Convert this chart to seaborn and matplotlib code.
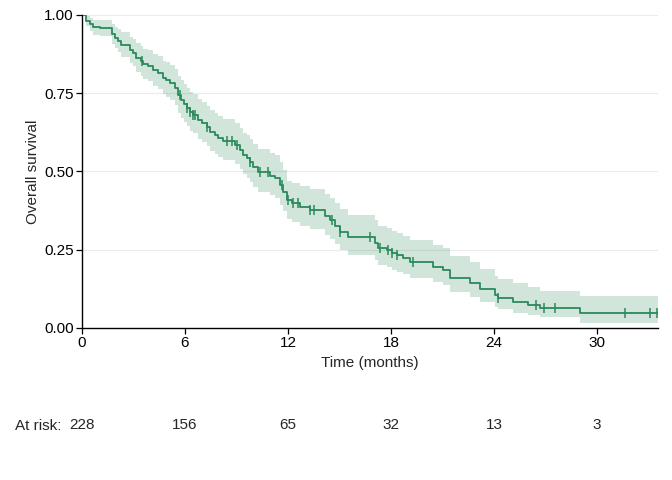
import numpy as np
import pandas as pd
import seaborn as sns
import matplotlib.pyplot as plt

# Kaplan-Meier steps (time in months)
time = [0.00, 0.23, 0.47, 0.64, 1.05, 1.75, 1.92, 2.10, 2.27, 2.80, 2.97, 3.15, 3.44, 3.55,
        3.84, 4.14, 4.43, 4.72, 4.89, 5.13, 5.42, 5.59, 5.77, 5.94, 6.12, 6.29, 6.46, 6.76,
        6.99, 7.28, 7.45, 7.75, 7.92, 8.21, 8.91, 9.20, 9.38, 9.61, 9.78, 9.96, 10.25, 10.95,
        11.24, 11.53, 11.71, 11.94, 12.23, 12.70, 13.28, 14.15, 14.44, 14.74, 15.03, 15.49,
        17.06, 17.24, 17.76, 18.05, 18.35, 18.70, 19.10, 20.44, 21.03, 21.43, 22.60, 23.18,
        24.05, 24.23, 25.10, 25.98, 26.67, 29.00]
surv = [1.000, 0.981, 0.971, 0.962, 0.958, 0.939, 0.927, 0.917, 0.904, 0.888, 0.879, 0.863,
        0.853, 0.843, 0.837, 0.824, 0.815, 0.799, 0.792, 0.783, 0.767, 0.744, 0.728, 0.716,
        0.703, 0.690, 0.681, 0.665, 0.655, 0.642, 0.626, 0.617, 0.607, 0.597, 0.585, 0.569,
        0.553, 0.543, 0.530, 0.514, 0.498, 0.486, 0.479, 0.457, 0.435, 0.409, 0.399, 0.387,
        0.377, 0.358, 0.345, 0.326, 0.307, 0.291, 0.272, 0.256, 0.249, 0.240, 0.233, 0.224,
        0.211, 0.195, 0.185, 0.160, 0.144, 0.125, 0.105, 0.096, 0.083, 0.073, 0.064, 0.048]
lower = [1.000, 0.963, 0.950, 0.937, 0.932, 0.908, 0.893, 0.881, 0.866, 0.847, 0.836, 0.818,
         0.806, 0.795, 0.788, 0.774, 0.764, 0.747, 0.739, 0.729, 0.712, 0.687, 0.670, 0.657,
         0.644, 0.630, 0.621, 0.604, 0.594, 0.580, 0.564, 0.555, 0.545, 0.535, 0.522, 0.506,
         0.490, 0.480, 0.467, 0.451, 0.435, 0.423, 0.416, 0.394, 0.373, 0.349, 0.338, 0.326,
         0.316, 0.297, 0.285, 0.267, 0.249, 0.234, 0.216, 0.201, 0.195, 0.186, 0.180, 0.171,
         0.159, 0.145, 0.136, 0.113, 0.099, 0.083, 0.066, 0.059, 0.049, 0.041, 0.035, 0.016]
upper = [1.000, 0.995, 0.990, 0.985, 0.983, 0.970, 0.962, 0.954, 0.944, 0.930, 0.922, 0.909,
         0.900, 0.892, 0.887, 0.876, 0.868, 0.854, 0.848, 0.840, 0.826, 0.805, 0.791, 0.780,
         0.767, 0.755, 0.747, 0.732, 0.722, 0.710, 0.695, 0.686, 0.676, 0.667, 0.655, 0.640,
         0.624, 0.615, 0.602, 0.587, 0.571, 0.559, 0.552, 0.530, 0.505, 0.470, 0.462, 0.452,
         0.444, 0.428, 0.416, 0.398, 0.379, 0.362, 0.343, 0.326, 0.319, 0.310, 0.303, 0.294,
         0.281, 0.265, 0.254, 0.228, 0.210, 0.189, 0.167, 0.157, 0.142, 0.130, 0.118, 0.102]
t_end = 33.55

censor_times = [3.49, 5.71, 6.12, 6.29, 6.46, 6.58, 7.28, 8.45, 8.74, 9.03, 9.78, 10.37,
                10.83, 11.65, 12.0, 12.29, 12.58, 13.28, 13.51, 14.56, 15.03, 16.77, 17.36,
                17.82, 18.05, 18.35, 19.28, 24.23, 26.44, 26.91, 27.55, 31.62, 33.08, 33.49]

risk_times = [0, 6, 12, 18, 24, 30]
at_risk = [228, 156, 65, 32, 13, 3]

green = "#2a8a5c"
fs = 11

sns.set_theme(style="ticks")
plt.rcParams['font.family'] = ['Liberation Sans', 'DejaVu Sans']

km = pd.DataFrame({"time": time + [t_end], "surv": surv + [surv[-1]],
                   "lower": lower + [lower[-1]], "upper": upper + [upper[-1]]})

fig = plt.figure(figsize=(6.72, 4.8), dpi=100)
ax = fig.add_axes([0.122, 0.317, 0.857, 0.652])

for y in [0.25, 0.5, 0.75, 1.0]:
    ax.axhline(y, color="#ebebeb", lw=0.8, zorder=0)

ax.fill_between(km["time"], km["lower"], km["upper"], step="post",
                color="#2E8B57", alpha=0.22, lw=0)
sns.lineplot(data=km, x="time", y="surv", drawstyle="steps-post",
             color=green, lw=1.3, ax=ax)

# censor marks sit on the step curve
idx = np.searchsorted(np.array(time), np.array(censor_times), side="right") - 1
ax.plot(censor_times, np.array(surv)[idx], ls="none", marker="|",
        ms=7, mew=1.1, color=green)

ax.set_xlim(0, t_end)
ax.set_ylim(0, 1)
ax.set_xticks(risk_times)
ax.set_yticks([0, 0.25, 0.5, 0.75, 1.0])
ax.set_yticklabels(["0.00", "0.25", "0.50", "0.75", "1.00"])
ax.tick_params(labelsize=fs, colors="black", length=4, width=0.9, pad=2)
ax.set_xlabel("Time (months)", fontsize=fs, labelpad=4)
ax.set_ylabel("Overall survival", fontsize=fs, labelpad=3)
for s in ["top", "right"]:
    ax.spines[s].set_visible(False)
for s in ["left", "bottom"]:
    ax.spines[s].set_color("black")
    ax.spines[s].set_linewidth(1.0)

trans = ax.get_xaxis_transform()
for t, n in zip(risk_times, at_risk):
    ax.text(t, -0.31, str(n), transform=trans, ha="center", va="center",
            fontsize=fs, clip_on=False)
fig.text(15 / 672, 1 - 426 / 480, "At risk:", ha="left", va="center", fontsize=fs)

fig.savefig("out.png", dpi=100)
